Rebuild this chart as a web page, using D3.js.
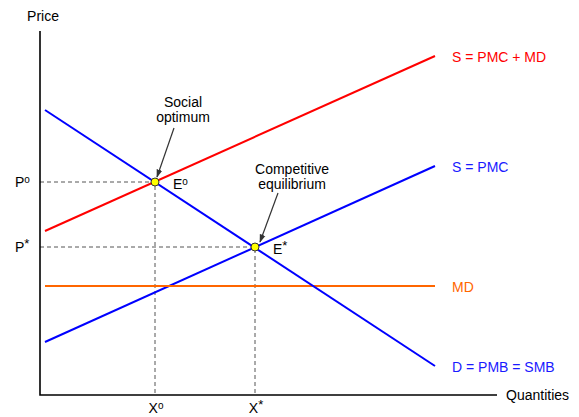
<!DOCTYPE html>
<html>
<head>
<meta charset="utf-8">
<script src="https://cdn.jsdelivr.net/npm/d3@7"></script>
<style>
  body { margin: 0; background: #fff; }
  text { font-family: "Liberation Sans", Arial, sans-serif; font-size: 14px; }
</style>
</head>
<body>
<svg id="chart" width="579" height="417"></svg>
<script>
// Curves: [quantity, price] end points, in chart units
const smcLine = [[0.1, 3.28], [7.9, 6.78]];   // S = PMC + MD
const pmcLine = [[0.1, 1.06], [7.9, 4.58]];   // S = PMC
const demandLine = [[0.1, 5.7], [7.9, 0.58]]; // D = PMB = SMB
const mdLine = [[0.1, 2.18], [7.9, 2.18]];    // MD

const curveNames = ["S = PMC + MD", "S = PMC", "MD", "D = PMB = SMB"];
const curveColors = ["#ff0000", "#0000ff", "#ff6600", "#0000ff"];

// Equilibrium points
const pointNames = ["o", "*"];
const pointQ = [2.3, 4.3];
const pointP = [4.26, 2.96];

const annotations = [["Social", "optimum"], ["Competitive", "equilibrium"]];

let svg = d3.select("#chart");

// Scales: 50px per unit
let xScale = d3.scaleLinear().domain([0, 10.4]).range([40, 560]);
let yScale = d3.scaleLinear().domain([0, 7.4]).range([395, 25]);

let line = d3.line()
  .x(d => xScale(d[0]))
  .y(d => yScale(d[1]));

// Arrow marker
svg.append("defs").append("marker")
  .attr("id", "arrow")
  .attr("viewBox", "0 0 10 10")
  .attr("refX", 9).attr("refY", 5)
  .attr("markerWidth", 7).attr("markerHeight", 7)
  .attr("orient", "auto")
  .append("path")
  .attr("d", "M0,1.5 L10,5 L0,8.5 Z")
  .attr("fill", "#333");

// Dashed guide lines
pointQ.forEach((q, i) => {
  svg.append("path")
    .attr("d", line([[0, pointP[i]], [q, pointP[i]], [q, 0]]))
    .attr("fill", "none")
    .attr("stroke", "#555")
    .attr("stroke-width", 1)
    .attr("stroke-dasharray", "4,3");
});

// Axes (no ticks)
svg.append("path")
  .attr("d", line([[0, 7.28], [0, 0], [9.14, 0]]))
  .attr("fill", "none")
  .attr("stroke", "#000")
  .attr("stroke-width", 1.6);

svg.append("text").attr("x", 43).attr("y", 21).attr("text-anchor", "middle").text("Price");
svg.append("text").attr("x", 506).attr("y", 400).text("Quantities");

// Curves
let curves = [smcLine, pmcLine, mdLine, demandLine];
svg.selectAll("path.curve")
  .data(curves)
  .join("path")
  .attr("class", "curve")
  .attr("d", d => line(d))
  .attr("fill", "none")
  .attr("stroke", (d, i) => curveColors[i])
  .attr("stroke-width", 2);

svg.selectAll("text.curve")
  .data(curves)
  .join("text")
  .attr("class", "curve")
  .attr("x", d => xScale(d[1][0]) + 17)
  .attr("y", d => yScale(d[1][1]) + 2)
  .attr("dominant-baseline", "middle")
  .attr("fill", (d, i) => i === 1 || i === 3 ? "#1a1aff" : curveColors[i])
  .text((d, i) => curveNames[i]);

// Axis labels with superscripts
function supLabel(x, y, base, sup, anchor) {
  let t = svg.append("text").attr("x", x).attr("y", y).attr("text-anchor", anchor || "start");
  t.append("tspan").text(base);
  t.append("tspan").attr("font-size", sup === "o" ? 10 : 13).attr("dy", -4).text(sup);
  return t;
}

pointNames.forEach((s, i) => {
  supLabel(15, yScale(pointP[i]) + 5, "P", s);
  supLabel(xScale(pointQ[i]) + 1, 413, "X", s, "middle");
  supLabel(xScale(pointQ[i]) + 18, yScale(pointP[i]) + 7, "E", s);
});

// Annotations with arrows
let arrowFrom = [[2.68, 5.34], [4.76, 4.04]];
let arrowTo = [[2.34, 4.36], [4.4, 3.06]];
annotations.forEach((lines, i) => {
  let cx = xScale(arrowFrom[i][0]) + (i === 0 ? 9 : 14);
  let top = yScale(arrowFrom[i][1]) - (i === 0 ? 21 : 19);
  lines.forEach((l, j) => {
    svg.append("text")
      .attr("x", cx)
      .attr("y", top + j * 15)
      .attr("text-anchor", "middle")
      .attr("font-size", 13)
      .text(l);
  });
  svg.append("line")
    .attr("x1", xScale(arrowFrom[i][0])).attr("y1", yScale(arrowFrom[i][1]))
    .attr("x2", xScale(arrowTo[i][0])).attr("y2", yScale(arrowTo[i][1]))
    .attr("stroke", "#333")
    .attr("stroke-width", 1.2)
    .attr("marker-end", "url(#arrow)");
});

// Equilibrium points
svg.selectAll("circle.eq")
  .data(pointQ)
  .join("circle")
  .attr("class", "eq")
  .attr("cx", d => xScale(d))
  .attr("cy", (d, i) => yScale(pointP[i]))
  .attr("r", 4)
  .attr("fill", "#ffff00")
  .attr("stroke", "#333")
  .attr("stroke-width", 1);
</script>
</body>
</html>
